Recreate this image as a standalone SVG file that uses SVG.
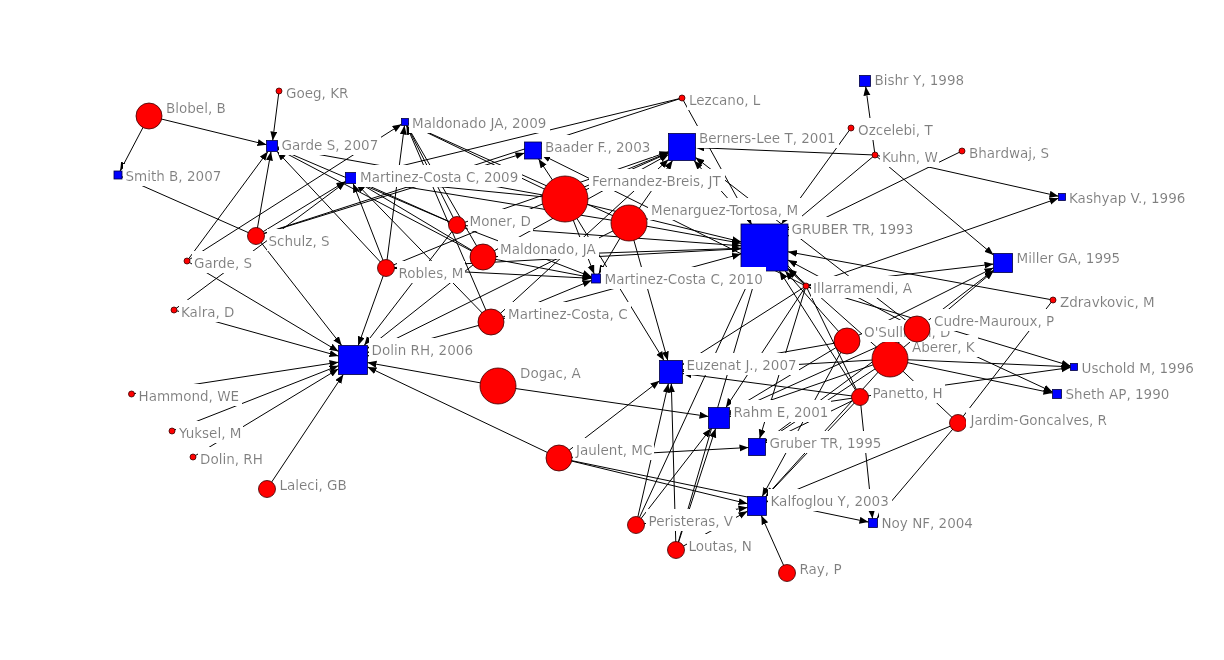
<svg xmlns="http://www.w3.org/2000/svg" width="1224" height="660" viewBox="0 0 1224 660">
<style>
.e{stroke:#000;stroke-width:1;fill:none;marker-end:url(#ah)}
.u{stroke:#000;stroke-width:1;fill:none}
.a{fill:#ff0000;stroke:#3a0000;stroke-width:0.8}
.p{fill:#0000ff;stroke:#000040;stroke-width:0.8}
text{font-family:"DejaVu Sans","Verdana",sans-serif;font-size:13.5px;fill:#7f7f7f;filter:url(#bg)}
</style>
<defs>
<marker id="ah" markerUnits="userSpaceOnUse" markerWidth="10" markerHeight="8" refX="9" refY="3.5" orient="auto">
<path d="M0,0 L9,3.5 L0,7 z" fill="#000"/>
</marker>
<filter id="bg" x="-0.02" y="-0.2" width="1.04" height="1.3">
<feFlood flood-color="#ffffff"/>
<feComposite in="SourceGraphic" operator="over"/>
</filter>
</defs>
<rect width="1224" height="660" fill="#fff"/>
<g id="connectors">
<line class="e" x1="149" y1="116" x2="120.1" y2="171"/>
<line class="e" x1="256" y1="236" x2="122" y2="176.8"/>
<line class="e" x1="279" y1="91" x2="272.7" y2="140.5"/>
<line class="e" x1="149" y1="116" x2="266.5" y2="144.7"/>
<line class="e" x1="256" y1="236" x2="271" y2="151.5"/>
<line class="e" x1="187" y1="261" x2="267.9" y2="151.5"/>
<line class="e" x1="386" y1="268" x2="277.1" y2="151.5"/>
<line class="e" x1="457" y1="225" x2="277.5" y2="148.3"/>
<line class="e" x1="483" y1="257" x2="277.5" y2="148.9"/>
<line class="e" x1="565" y1="199" x2="277.5" y2="147"/>
<line class="e" x1="187" y1="261" x2="401.5" y2="124.2"/>
<line class="e" x1="386" y1="268" x2="404.5" y2="125.5"/>
<line class="e" x1="457" y1="225" x2="406.8" y2="125.5"/>
<line class="e" x1="483" y1="257" x2="407" y2="125.5"/>
<line class="e" x1="565" y1="199" x2="408.5" y2="123.7"/>
<line class="e" x1="629" y1="223" x2="408.5" y2="123.6"/>
<line class="e" x1="491" y1="322" x2="406.5" y2="125.5"/>
<line class="e" x1="256" y1="236" x2="345.5" y2="181.4"/>
<line class="e" x1="174" y1="310" x2="345.5" y2="182.1"/>
<line class="e" x1="386" y1="268" x2="353.1" y2="183.5"/>
<line class="e" x1="457" y1="225" x2="356.5" y2="180.4"/>
<line class="e" x1="483" y1="257" x2="356.5" y2="181.3"/>
<line class="e" x1="565" y1="199" x2="356.5" y2="178.5"/>
<line class="e" x1="629" y1="223" x2="356.5" y2="178.9"/>
<line class="e" x1="491" y1="322" x2="356.3" y2="183.5"/>
<line class="e" x1="682" y1="98" x2="356.5" y2="176.7"/>
<line class="e" x1="256" y1="236" x2="524.5" y2="153.1"/>
<line class="e" x1="565" y1="199" x2="538.6" y2="159"/>
<line class="e" x1="806" y1="286" x2="541.5" y2="154.7"/>
<line class="e" x1="457" y1="225" x2="668.5" y2="151.7"/>
<line class="e" x1="483" y1="257" x2="668.5" y2="154.5"/>
<line class="e" x1="386" y1="268" x2="668.5" y2="152.5"/>
<line class="e" x1="565" y1="199" x2="668.5" y2="153"/>
<line class="e" x1="629" y1="223" x2="672.6" y2="160.5"/>
<line class="e" x1="491" y1="322" x2="668.5" y2="159.4"/>
<line class="e" x1="875" y1="155" x2="695.5" y2="147.6"/>
<line class="e" x1="917" y1="329" x2="695.5" y2="157.4"/>
<line class="e" x1="806" y1="286" x2="694" y2="160.5"/>
<line class="e" x1="682" y1="98" x2="751.5" y2="224"/>
<line class="e" x1="851" y1="128" x2="781.5" y2="224"/>
<line class="e" x1="875" y1="155" x2="788" y2="227.8"/>
<line class="e" x1="962" y1="151" x2="788" y2="236"/>
<line class="e" x1="1053" y1="300" x2="788" y2="251.8"/>
<line class="e" x1="806" y1="286" x2="788" y2="269.3"/>
<line class="e" x1="847" y1="341" x2="785.2" y2="271"/>
<line class="e" x1="917" y1="329" x2="788" y2="260.1"/>
<line class="e" x1="890" y1="359" x2="788" y2="268.4"/>
<line class="e" x1="860" y1="397" x2="779.5" y2="271"/>
<line class="e" x1="636" y1="525" x2="753.6" y2="271"/>
<line class="e" x1="676" y1="550" x2="757.6" y2="271"/>
<line class="e" x1="457" y1="225" x2="741" y2="245.8"/>
<line class="e" x1="483" y1="257" x2="741" y2="248.3"/>
<line class="e" x1="565" y1="199" x2="741" y2="241.8"/>
<line class="e" x1="629" y1="223" x2="741" y2="243.3"/>
<line class="e" x1="491" y1="322" x2="741" y2="253.9"/>
<line class="e" x1="386" y1="268" x2="741" y2="248.8"/>
<line class="e" x1="386" y1="268" x2="591.5" y2="278.3"/>
<line class="e" x1="457" y1="225" x2="591.5" y2="276.8"/>
<line class="e" x1="483" y1="257" x2="591.5" y2="277.6"/>
<line class="e" x1="565" y1="199" x2="594.2" y2="274"/>
<line class="e" x1="629" y1="223" x2="598.7" y2="274"/>
<line class="e" x1="491" y1="322" x2="591.5" y2="280.4"/>
<line class="e" x1="256" y1="236" x2="341.7" y2="345.5"/>
<line class="e" x1="187" y1="261" x2="338.5" y2="351.4"/>
<line class="e" x1="174" y1="310" x2="338.5" y2="356"/>
<line class="e" x1="131.5" y1="394" x2="338.5" y2="362.2"/>
<line class="e" x1="172" y1="431" x2="338.5" y2="365.7"/>
<line class="e" x1="193" y1="457" x2="338.5" y2="368.8"/>
<line class="e" x1="267" y1="489" x2="343.3" y2="374.5"/>
<line class="e" x1="386" y1="268" x2="358.2" y2="345.5"/>
<line class="e" x1="457" y1="225" x2="364.2" y2="345.5"/>
<line class="e" x1="483" y1="257" x2="367.5" y2="348.5"/>
<line class="e" x1="629" y1="223" x2="367.5" y2="352.8"/>
<line class="e" x1="491" y1="322" x2="367.5" y2="356"/>
<line class="e" x1="498" y1="386" x2="367.5" y2="362.6"/>
<line class="e" x1="559" y1="458" x2="367.5" y2="366.9"/>
<line class="e" x1="565" y1="199" x2="664" y2="360.5"/>
<line class="e" x1="629" y1="223" x2="667.8" y2="360.5"/>
<line class="e" x1="806" y1="286" x2="682.5" y2="364.7"/>
<line class="e" x1="847" y1="341" x2="682.5" y2="370"/>
<line class="e" x1="890" y1="359" x2="682.5" y2="371.3"/>
<line class="e" x1="860" y1="397" x2="682.5" y2="373.5"/>
<line class="e" x1="559" y1="458" x2="659.5" y2="380.8"/>
<line class="e" x1="636" y1="525" x2="668.4" y2="383.5"/>
<line class="e" x1="676" y1="550" x2="671.3" y2="383.5"/>
<line class="e" x1="498" y1="386" x2="708.5" y2="416.5"/>
<line class="e" x1="636" y1="525" x2="710.9" y2="428.5"/>
<line class="e" x1="676" y1="550" x2="715.6" y2="428.5"/>
<line class="e" x1="806" y1="286" x2="725.9" y2="407.5"/>
<line class="e" x1="847" y1="341" x2="729.5" y2="411.7"/>
<line class="e" x1="917" y1="329" x2="729.5" y2="413.3"/>
<line class="e" x1="890" y1="359" x2="729.5" y2="414.4"/>
<line class="e" x1="860" y1="397" x2="729.5" y2="416.4"/>
<line class="e" x1="559" y1="458" x2="748.5" y2="447.5"/>
<line class="e" x1="806" y1="286" x2="759.6" y2="438.5"/>
<line class="e" x1="890" y1="359" x2="765.5" y2="441.4"/>
<line class="e" x1="860" y1="397" x2="765.5" y2="442.9"/>
<line class="e" x1="917" y1="329" x2="765.5" y2="440.7"/>
<line class="e" x1="559" y1="458" x2="747.5" y2="503.7"/>
<line class="e" x1="636" y1="525" x2="747.5" y2="507.5"/>
<line class="e" x1="676" y1="550" x2="747.5" y2="511.2"/>
<line class="e" x1="787" y1="573" x2="761.3" y2="515.5"/>
<line class="e" x1="847" y1="341" x2="762.2" y2="496.5"/>
<line class="e" x1="890" y1="359" x2="765.6" y2="496.5"/>
<line class="e" x1="860" y1="397" x2="766" y2="496.5"/>
<line class="e" x1="958" y1="423" x2="766.5" y2="502.1"/>
<line class="e" x1="559" y1="458" x2="868.5" y2="522.1"/>
<line class="e" x1="860" y1="397" x2="872.5" y2="518.5"/>
<line class="e" x1="958" y1="423" x2="876.8" y2="518.5"/>
<line class="e" x1="875" y1="155" x2="865.7" y2="86.5"/>
<line class="e" x1="875" y1="155" x2="1058.5" y2="196.2"/>
<line class="e" x1="806" y1="286" x2="1058.5" y2="198.2"/>
<line class="e" x1="875" y1="155" x2="993.5" y2="255"/>
<line class="e" x1="806" y1="286" x2="993.5" y2="264.1"/>
<line class="e" x1="847" y1="341" x2="993.5" y2="267.8"/>
<line class="e" x1="917" y1="329" x2="993.5" y2="270.3"/>
<line class="e" x1="890" y1="359" x2="993.5" y2="271.1"/>
<line class="e" x1="806" y1="286" x2="1070.5" y2="365.9"/>
<line class="e" x1="890" y1="359" x2="1070.5" y2="366.8"/>
<line class="e" x1="860" y1="397" x2="1070.5" y2="367.5"/>
<line class="e" x1="890" y1="359" x2="1052.5" y2="393.1"/>
<line class="e" x1="917" y1="329" x2="1052.5" y2="391.9"/>
<line class="u" x1="256" y1="236" x2="682" y2="98"/>
<line class="u" x1="1053" y1="300" x2="958" y2="423"/>
<line class="u" x1="890" y1="359" x2="958" y2="423"/>
<line class="u" x1="806" y1="286" x2="860" y2="397"/>
</g>
<g id="n-blobel"><circle class="a" cx="149" cy="116" r="13"/><text x="166" y="112.5">Blobel, B</text></g>
<g id="n-goeg"><circle class="a" cx="279" cy="91" r="3"/><text x="286" y="97.5">Goeg, KR</text></g>
<g id="n-smith2007"><rect class="p" x="114" y="171" width="8" height="8"/><text x="125.5" y="180.5">Smith B, 2007</text></g>
<g id="n-garde2007"><rect class="p" x="266.5" y="140.5" width="11" height="11"/><text x="281.5" y="150">Garde S, 2007</text></g>
<g id="n-maldonado2009"><rect class="p" x="401.5" y="118.5" width="7" height="7"/><text x="412" y="128">Maldonado JA, 2009</text></g>
<g id="n-mcosta2009"><rect class="p" x="345.5" y="172.5" width="11" height="11"/><text x="360" y="182">Martinez-Costa C, 2009</text></g>
<g id="n-baader"><rect class="p" x="524.5" y="142" width="17" height="17"/><text x="545" y="151.5">Baader F., 2003</text></g>
<g id="n-bernerslee"><rect class="p" x="668.5" y="133.5" width="27" height="27"/><text x="699" y="143">Berners-Lee T, 2001</text></g>
<g id="n-lezcano"><circle class="a" cx="682" cy="98" r="3"/><text x="689" y="104.5">Lezcano, L</text></g>
<g id="n-bishr"><rect class="p" x="859.5" y="75.5" width="11" height="11"/><text x="874.5" y="85">Bishr Y, 1998</text></g>
<g id="n-ozcelebi"><circle class="a" cx="851" cy="128" r="3"/><text x="858" y="134.5">Ozcelebi, T</text></g>
<g id="n-kuhn"><circle class="a" cx="875" cy="155" r="3"/><text x="882" y="161.5">Kuhn, W</text></g>
<g id="n-bhardwaj"><circle class="a" cx="962" cy="151" r="3"/><text x="969" y="157.5">Bhardwaj, S</text></g>
<g id="n-kashyap"><rect class="p" x="1058.5" y="193.5" width="7" height="7"/><text x="1069" y="203">Kashyap V., 1996</text></g>
<g id="n-fernandezbreis"><circle class="a" cx="565" cy="199" r="23"/><text x="592" y="185.5">Fernandez-Breis, JT</text></g>
<g id="n-menarguez"><circle class="a" cx="629" cy="223" r="18"/><text x="651" y="214.5">Menarguez-Tortosa, M</text></g>
<g id="n-gruber1993"><rect class="p" x="741" y="224" width="47" height="47"/><text x="791.5" y="233.5">GRUBER TR, 1993</text></g>
<g id="n-moner"><circle class="a" cx="457" cy="225" r="8.5"/><text x="469.5" y="226">Moner, D</text></g>
<g id="n-maldonado"><circle class="a" cx="483" cy="257" r="13"/><text x="500" y="253.5">Maldonado, JA</text></g>
<g id="n-robles"><circle class="a" cx="386" cy="268" r="8.5"/><text x="398.5" y="278">Robles, M</text></g>
<g id="n-schulz"><circle class="a" cx="256" cy="236" r="8.5"/><text x="268.5" y="246">Schulz, S</text></g>
<g id="n-gardes"><circle class="a" cx="187" cy="261" r="3"/><text x="194" y="267.5">Garde, S</text></g>
<g id="n-kalra"><circle class="a" cx="174" cy="310" r="3"/><text x="181" y="316.5">Kalra, D</text></g>
<g id="n-mcosta2010"><rect class="p" x="591.5" y="274" width="9" height="9"/><text x="604.5" y="283.5">Martinez-Costa C, 2010</text></g>
<g id="n-mcosta"><circle class="a" cx="491" cy="322" r="13"/><text x="508" y="318.5">Martinez-Costa, C</text></g>
<g id="n-dolin2006"><rect class="p" x="338.5" y="345.5" width="29" height="29"/><text x="371.5" y="355">Dolin RH, 2006</text></g>
<g id="n-hammond"><circle class="a" cx="131.5" cy="394" r="3"/><text x="138.5" y="400.5">Hammond, WE</text></g>
<g id="n-yuksel"><circle class="a" cx="172" cy="431" r="3"/><text x="179" y="437.5">Yuksel, M</text></g>
<g id="n-dolinrh"><circle class="a" cx="193" cy="457" r="3"/><text x="200" y="463.5">Dolin, RH</text></g>
<g id="n-laleci"><circle class="a" cx="267" cy="489" r="8.5"/><text x="279.5" y="490">Laleci, GB</text></g>
<g id="n-dogac"><circle class="a" cx="498" cy="386" r="18"/><text x="520" y="377.5">Dogac, A</text></g>
<g id="n-euzenat"><rect class="p" x="659.5" y="360.5" width="23" height="23"/><text x="686.5" y="370">Euzenat J., 2007</text></g>
<g id="n-rahm"><rect class="p" x="708.5" y="407.5" width="21" height="21"/><text x="733.5" y="417">Rahm E, 2001</text></g>
<g id="n-gruber1995"><rect class="p" x="748.5" y="438.5" width="17" height="17"/><text x="769.5" y="448">Gruber TR, 1995</text></g>
<g id="n-jaulent"><circle class="a" cx="559" cy="458" r="13"/><text x="576" y="454.5">Jaulent, MC</text></g>
<g id="n-kalfoglou"><rect class="p" x="747.5" y="496.5" width="19" height="19"/><text x="770.5" y="506">Kalfoglou Y, 2003</text></g>
<g id="n-noy"><rect class="p" x="868.5" y="518.5" width="9" height="9"/><text x="881.5" y="528">Noy NF, 2004</text></g>
<g id="n-peristeras"><circle class="a" cx="636" cy="525" r="8.5"/><text x="648.5" y="526">Peristeras, V</text></g>
<g id="n-loutas"><circle class="a" cx="676" cy="550" r="8.5"/><text x="688.5" y="551">Loutas, N</text></g>
<g id="n-ray"><circle class="a" cx="787" cy="573" r="8.5"/><text x="799.5" y="574">Ray, P</text></g>
<g id="n-miller"><rect class="p" x="993.5" y="253.5" width="19" height="19"/><text x="1016.5" y="263">Miller GA, 1995</text></g>
<g id="n-illarramendi"><circle class="a" cx="806" cy="286" r="3"/><text x="813" y="292.5">Illarramendi, A</text></g>
<g id="n-zdravkovic"><circle class="a" cx="1053" cy="300" r="3"/><text x="1060" y="306.5">Zdravkovic, M</text></g>
<g id="n-aberer"><circle class="a" cx="890" cy="359" r="18"/><text x="912" y="351.5">Aberer, K</text></g>
<g id="n-osullivan"><circle class="a" cx="847" cy="341" r="13"/><text x="864" y="336.5">O'Sullivan, D</text></g>
<g id="n-cudre"><circle class="a" cx="917" cy="329" r="13"/><text x="934" y="325.5">Cudre-Mauroux, P</text></g>
<g id="n-panetto"><circle class="a" cx="860" cy="397" r="8.5"/><text x="872.5" y="398">Panetto, H</text></g>
<g id="n-jardim"><circle class="a" cx="958" cy="423" r="8.5"/><text x="970.5" y="424.5">Jardim-Goncalves, R</text></g>
<g id="n-uschold"><rect class="p" x="1070.5" y="363.5" width="7" height="7"/><text x="1081.5" y="373">Uschold M, 1996</text></g>
<g id="n-sheth"><rect class="p" x="1052.5" y="389.5" width="9" height="9"/><text x="1065.5" y="399">Sheth AP, 1990</text></g>
</svg>
